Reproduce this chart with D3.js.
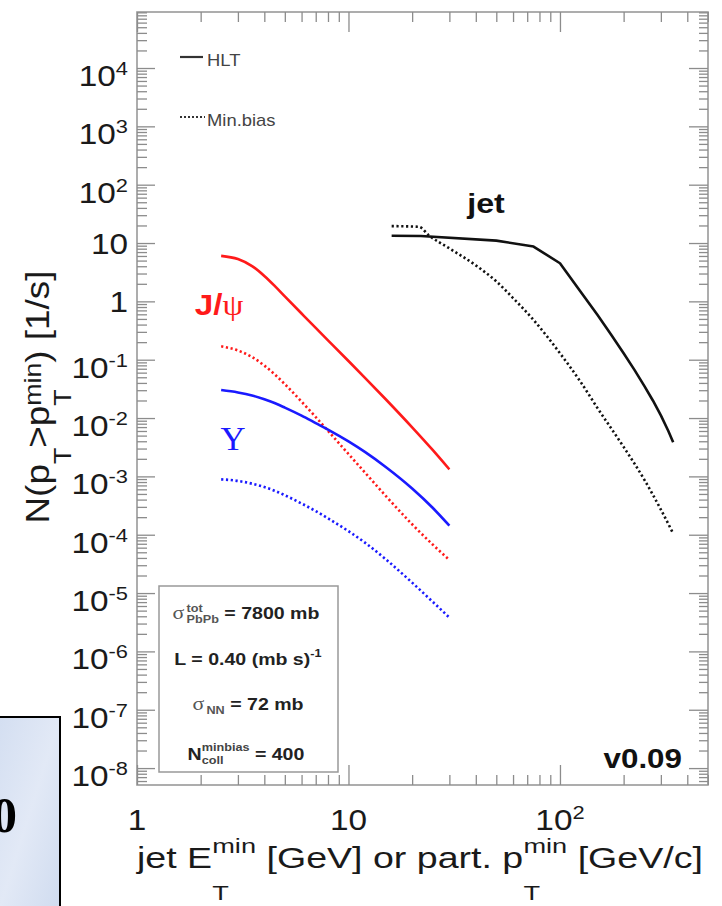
<!DOCTYPE html>
<html>
<head>
<meta charset="utf-8">
<script src="https://cdn.jsdelivr.net/npm/d3@7"></script>
<style>
body { margin: 0; background: #fff; }
svg { display: block; }
text { font-family: "Liberation Sans", Arial, Helvetica, sans-serif; white-space: pre; }
</style>
</head>
<body>
<svg id="chart" width="722" height="906"></svg>
<script>
// quarkonium curves share the same p_T grid
const xQuark  = [2.5, 3, 3.5, 4, 4.5, 5, 6, 7, 8, 10, 12, 15, 20, 25, 30];
const jpsiHLT = [6.03, 5.31, 4.02, 2.73, 1.81, 1.22, 0.619, 0.350, 0.215, 0.0951, 0.0485, 0.0210, 6.93e-3, 2.84e-3, 1.32e-3];
const jpsiMB  = [0.170, 0.144, 0.111, 0.0794, 0.0552, 0.0381, 0.0191, 0.0104, 6.04e-3, 2.42e-3, 1.15e-3, 4.63e-4, 1.51e-4, 6.8e-5, 3.7e-5];
const upsHLT  = [0.0302, 0.0275, 0.0244, 0.0210, 0.0179, 0.0151, 0.0110, 8.2e-3, 6.35e-3, 3.98e-3, 2.6e-3, 1.45e-3, 6.2e-4, 2.9e-4, 1.43e-4];
const upsMB   = [8.9e-4, 8.36e-4, 7.5e-4, 6.56e-4, 5.64e-4, 4.75e-4, 3.43e-4, 2.54e-4, 1.91e-4, 1.15e-4, 7.26e-5, 3.8e-5, 1.51e-5, 7.1e-6, 3.8e-6];

// jets
const xJetHLT = [16, 22, 50, 75, 100, 125, 150, 175, 200, 225, 250, 275, 300, 325, 343];
const jetHLT  = [13.3, 13.2, 11, 8.7, 4.5, 1.47, 0.593, 0.266, 0.129, 0.067, 0.0359, 0.0200, 0.0111, 6.07e-3, 3.86e-3];
const xJetMB  = [16, 21.5, 24, 30, 40, 50, 60, 75, 100, 125, 150, 200, 250, 300, 343];
const jetMB   = [19.5, 19, 13.5, 8.1, 4.14, 2.2, 1.14, 0.48, 0.129, 0.042, 0.0151, 3.2e-3, 8.9e-4, 2.7e-4, 1.05e-4];

// axis ticks (decade exponents)
const xDecades = [0, 1, 2];
const yDecades = [-8, -7, -6, -5, -4, -3, -2, -1, 0, 1, 2, 3, 4];

const svg = d3.select("#chart");
const x = d3.scaleLog().domain([1, Math.pow(10, 2.70)]).range([137, 708]);
const y = d3.scaleLog().domain([Math.pow(10, -8.29), Math.pow(10, 4.96)]).range([785, 12]);

const SX = 1.15; // text in the picture is a bit wider than plain Helvetica

// lays out text with sub/superscripts, segment by segment
function rich(parent, segs, o) {
  const fs = o.fs;
  const g = parent.append("g");
  const gi = g.append("g");
  let cx = 0;
  segs.forEach(s => {
    if (typeof s === "string") s = { t: s };
    if (s.sup !== undefined || s.sub !== undefined) {
      const sfs = s.fs || fs * 0.68;
      const px = cx + (s.pad || 0);
      let w = 0;
      if (s.sup !== undefined) {
        const t = gi.append("text").attr("x", px).attr("y", s.supDy !== undefined ? s.supDy : -fs * 0.42)
          .attr("font-size", sfs).attr("font-weight", o.wt || "normal").attr("fill", s.fill || o.fill || "#222").text(s.sup);
        w = Math.max(w, t.node().getComputedTextLength());
      }
      if (s.sub !== undefined) {
        const t = gi.append("text").attr("x", px).attr("y", s.subDy !== undefined ? s.subDy : fs * 0.3)
          .attr("font-size", sfs).attr("font-weight", o.wt || "normal").attr("fill", s.fill || o.fill || "#222").text(s.sub);
        w = Math.max(w, t.node().getComputedTextLength());
      }
      cx = px + w;
    } else {
      const t = gi.append("text").attr("x", cx).attr("y", s.dy || 0)
        .attr("font-size", s.fs || fs)
        .attr("font-weight", s.wt || o.wt || "normal")
        .attr("fill", s.fill || o.fill || "#222")
        .text(s.t);
      if (s.fam) t.style("font-family", s.fam);
      cx += t.node().getComputedTextLength();
    }
  });
  let shift = 0;
  if (o.anchor === "end") shift = -cx;
  if (o.anchor === "middle") shift = -cx / 2;
  gi.attr("transform", `translate(${shift},0)`);
  let sx = o.sx !== undefined ? o.sx : SX;
  if (o.width) sx = o.width / cx;
  const sy = o.sy || 1;
  g.attr("transform", `translate(${o.x},${o.y})` + (o.rot ? ` rotate(${o.rot})` : "") + ` scale(${sx},${sy})`);
  return g;
}

// bit of the neighbouring slide, bottom left
const bgGrad = svg.append("defs").append("linearGradient").attr("id", "slide")
  .attr("x1", 0).attr("y1", 0).attr("x2", 1).attr("y2", 1);
bgGrad.append("stop").attr("offset", 0).attr("stop-color", "#d3def1");
bgGrad.append("stop").attr("offset", 0.5).attr("stop-color", "#e2e9f6");
bgGrad.append("stop").attr("offset", 1).attr("stop-color", "#cfdbef");
svg.append("rect").attr("x", -3).attr("y", 717).attr("width", 63).attr("height", 200)
  .attr("fill", "url(#slide)").attr("stroke", "#000").attr("stroke-width", 2);
svg.append("text").attr("x", 17).attr("y", 832).attr("text-anchor", "end")
  .style("font-family", "'Liberation Serif', 'DejaVu Serif', serif")
  .attr("font-size", 50).attr("font-weight", "bold").attr("fill", "#000").text("0");

// frame
svg.append("rect").attr("x", 137).attr("y", 12).attr("width", 571).attr("height", 773)
  .attr("fill", "#fff").attr("stroke", "#999").attr("stroke-width", 1.6);

const yMajor = yDecades.map(e => Math.pow(10, e));
const xMajor = xDecades.map(e => Math.pow(10, e));
const minorOf = (scale) => {
  const [a, b] = scale.domain();
  const out = [];
  for (let e = Math.floor(Math.log10(a)); e <= Math.ceil(Math.log10(b)); e++) {
    for (let k = 2; k <= 9; k++) {
      const v = k * Math.pow(10, e);
      if (v > a && v < b) out.push(v);
    }
  }
  return out;
};
const yMinor = minorOf(y);
const xMinor = minorOf(x);

function tickAxis(axis, tx, ty) {
  const g = svg.append("g").attr("transform", `translate(${tx},${ty})`).call(axis);
  g.select(".domain").remove();
  g.selectAll(".tick line").attr("stroke", "#8c8c8c").attr("stroke-width", 1.3);
  return g;
}
tickAxis(d3.axisLeft(y).tickValues(yMajor).tickSize(-18).tickFormat(""), 137, 0);
tickAxis(d3.axisLeft(y).tickValues(yMinor).tickSize(-10).tickFormat(""), 137, 0);
tickAxis(d3.axisRight(y).tickValues(yMajor).tickSize(-19).tickFormat(""), 708, 0);
tickAxis(d3.axisRight(y).tickValues(yMinor).tickSize(-9).tickFormat(""), 708, 0);
tickAxis(d3.axisBottom(x).tickValues(xMajor).tickSize(-20).tickFormat(""), 0, 785);
tickAxis(d3.axisBottom(x).tickValues(xMinor).tickSize(-10).tickFormat(""), 0, 785);
tickAxis(d3.axisTop(x).tickValues(xMajor).tickSize(-20).tickFormat(""), 0, 12);
tickAxis(d3.axisTop(x).tickValues(xMinor).tickSize(-10).tickFormat(""), 0, 12);

// tick labels
const labelSegs = e => e === 0 ? ["1"] : e === 1 ? ["10"] : ["10", { sup: String(e), fs: 19, supDy: -11 }];
yDecades.forEach(e => {
  const plain = e === 0 || e === 1;
  rich(svg, labelSegs(e), { x: 128, y: y(Math.pow(10, e)) + (plain ? 11 : 18), fs: 29, anchor: "end", fill: "#1a1a1a" });
});
xDecades.forEach(e => {
  rich(svg, labelSegs(e), { x: x(Math.pow(10, e)), y: 830, fs: 29, anchor: "middle", fill: "#1a1a1a" });
});

// axis titles
rich(svg, ["jet E", { sup: "min", sub: "T", supDy: -15, subDy: 32, fs: 21 }, " [GeV] or part. p",
  { sup: "min", sub: "T", supDy: -15, subDy: 32, fs: 21 }, " [GeV/c]"],
  { x: 137, y: 868, fs: 29, anchor: "start", width: 566, fill: "#1a1a1a" });
rich(svg, ["N(p", { sub: "T", subDy: 19, fs: 21 }, ">p", { sup: "min", sub: "T", supDy: -7, subDy: 19, fs: 21 }, ") [1/s]"],
  { x: 49, y: 397, fs: 29, anchor: "middle", rot: -90, width: 253, sy: 1.15, fill: "#1a1a1a" });

// curves
const series = [
  { xs: xQuark, ys: jpsiHLT, color: "#ff1a1a", dotted: false, curve: d3.curveMonotoneX },
  { xs: xQuark, ys: jpsiMB,  color: "#ff1a1a", dotted: true,  curve: d3.curveMonotoneX },
  { xs: xQuark, ys: upsHLT,  color: "#1a1aff", dotted: false, curve: d3.curveMonotoneX },
  { xs: xQuark, ys: upsMB,   color: "#1a1aff", dotted: true,  curve: d3.curveMonotoneX },
  { xs: xJetHLT, ys: jetHLT, color: "#111", dotted: false, curve: d3.curveLinear },
  { xs: xJetMB,  ys: jetMB,  color: "#111", dotted: true,  curve: d3.curveMonotoneX }
];
series.forEach(s => {
  const line = d3.line().x(d => x(d[0])).y(d => y(d[1])).curve(s.curve);
  svg.append("path")
    .datum(s.xs.map((v, i) => [v, s.ys[i]]))
    .attr("d", line)
    .attr("fill", "none")
    .attr("stroke", s.color)
    .attr("stroke-width", 2.6)
    .attr("stroke-linejoin", "round")
    .attr("stroke-dasharray", s.dotted ? "2.2,2.6" : null);
});

// legend
svg.append("line").attr("x1", 180).attr("x2", 203).attr("y1", 57).attr("y2", 57)
  .attr("stroke", "#333").attr("stroke-width", 2.2);
svg.append("line").attr("x1", 180).attr("x2", 205).attr("y1", 117).attr("y2", 117)
  .attr("stroke", "#333").attr("stroke-width", 2).attr("stroke-dasharray", "2,2");
rich(svg, ["HLT"], { x: 207, y: 66, fs: 16, anchor: "start", fill: "#444" });
rich(svg, ["Min.bias"], { x: 207, y: 126, fs: 16, anchor: "start", fill: "#444" });

// curve labels
rich(svg, ["jet"], { x: 486, y: 213, fs: 28, wt: "bold", anchor: "middle", fill: "#111" });
rich(svg, ["J/", { t: "ψ", fam: "'Liberation Serif', 'DejaVu Serif', serif", wt: "normal" }],
  { x: 219, y: 315, fs: 29, wt: "bold", anchor: "middle", fill: "#ff1a1a" });
rich(svg, [{ t: "Υ", fam: "'Liberation Serif', 'DejaVu Serif', serif" }],
  { x: 233, y: 450, fs: 33, anchor: "middle", fill: "#1a1aff", sx: 1.05 });

// info box
svg.append("rect").attr("x", 159).attr("y", 586).attr("width", 179).attr("height", 186)
  .attr("fill", "#fff").attr("stroke", "#999").attr("stroke-width", 1.5);
const serif = "'Liberation Serif', 'DejaVu Serif', serif";
rich(svg, [{ t: "σ", fam: serif, wt: "normal", fs: 19, fill: "#555" }, { sup: "tot", sub: "PbPb", fs: 11, supDy: -7, subDy: 4, pad: 2, fill: "#555" }, " = 7800 mb"],
  { x: 246, y: 619, fs: 17, wt: "bold", anchor: "middle", fill: "#222" });
rich(svg, ["L = 0.40 (mb s)", { sup: "-1", fs: 11, supDy: -8 }],
  { x: 248, y: 665, fs: 17, wt: "bold", anchor: "middle", fill: "#222" });
rich(svg, [{ t: "σ", fam: serif, wt: "normal", fs: 19, fill: "#555" }, { sub: "NN", fs: 11, subDy: 4, pad: 2, fill: "#555" }, " = 72 mb"],
  { x: 248, y: 710, fs: 17, wt: "bold", anchor: "middle", fill: "#222" });
rich(svg, ["N", { sup: "minbias", sub: "coll", fs: 11, supDy: -9, subDy: 4, fill: "#444" }, " = 400"],
  { x: 246, y: 760, fs: 17, wt: "bold", anchor: "middle", fill: "#222" });

// version tag
rich(svg, ["v0.09"], { x: 682, y: 768, fs: 28, wt: "bold", anchor: "end", fill: "#111", sx: 1.12 });
</script>
</body>
</html>
